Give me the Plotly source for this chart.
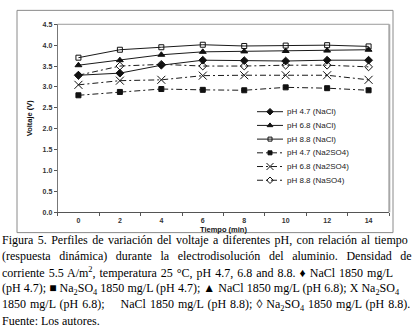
import plotly.graph_objects as go

W, H = 415, 335

# ---- data ----
tiempo = [0, 2, 4, 6, 8, 10, 12, 14]
ph47_nacl = [3.28, 3.33, 3.52, 3.64, 3.63, 3.62, 3.64, 3.64]
ph68_nacl = [3.52, 3.64, 3.77, 3.84, 3.85, 3.86, 3.87, 3.89]
ph88_nacl = [3.70, 3.89, 3.95, 4.01, 3.98, 3.99, 4.00, 3.97]
ph47_na2so4 = [2.80, 2.88, 2.95, 2.93, 2.92, 2.99, 2.97, 2.92]
ph68_na2so4 = [3.05, 3.15, 3.17, 3.27, 3.28, 3.28, 3.28, 3.17]
ph88_naso4 = [3.28, 3.50, 3.54, 3.50, 3.50, 3.52, 3.52, 3.48]

labels = ["pH 4.7 (NaCl)", "pH 6.8 (NaCl)", "pH 8.8 (NaCl)",
          "pH 4.7 (Na2SO4)", "pH 6.8 (Na2SO4)", "pH 8.8 (NaSO4)"]
values = [ph47_nacl, ph68_nacl, ph88_nacl, ph47_na2so4, ph68_na2so4, ph88_naso4]
y_ticks = [0.0, 0.5, 1.0, 1.5, 2.0, 2.5, 3.0, 3.5, 4.0, 4.5]
x_title = "Tiempo (min)"
y_title = "Voltaje (V)"

caption = [
    "Figura 5. Perfiles de variación del voltaje a diferentes pH, con relación al tiempo",
    "(respuesta dinámica) durante la electrodisolución del aluminio. Densidad de",
    "corriente 5.5 A/m<sup>2</sup>, temperatura 25 °C, pH 4.7, 6.8 and 8.8. ♦ NaCl 1850 mg/L",
    "(pH 4.7); ■ Na<sub>2</sub>SO<sub>4</sub> 1850 mg/L (pH 4.7); ▲ NaCl 1850 mg/L (pH 6.8); X Na<sub>2</sub>SO<sub>4</sub>",
    "1850 mg/L (pH 6.8);\u00a0\u00a0\u00a0 NaCl 1850 mg/L (pH 8.8); ◊ Na<sub>2</sub>SO<sub>4</sub> 1850 mg/L (pH 8.8).",
    "Fuente: Los autores.",
]
# extra word spacing (px) per line, for justification
word_sp = [1.4, 5.6, 1.0, 0.1, 1.0, 0]

# ---- styles ----
styles = [
    dict(symbol="diamond", size=6, dash="solid"),
    dict(symbol="triangle-up", size=6, dash="solid"),
    dict(symbol="square-open", size=5, dash="solid"),
    dict(symbol="square", size=5, dash="6px,3px,2px,3px"),
    dict(symbol="x-thin-open", size=8, dash="6px,3px,2px,3px"),
    dict(symbol="diamond-open", size=6, dash="6px,3px,2px,3px"),
]

def px(x):
    return x / W

def py(y):
    return 1 - y / H

L, R, T, B = 57.7, 389.3, 20.7, 212.7
FONT = "Liberation Sans, Arial"

fig = go.Figure()
for lab, vals, st in zip(labels, values, styles):
    fig.add_trace(go.Scatter(
        x=tiempo, y=vals, mode="lines+markers", name=lab,
        line=dict(color="#1a1a1a", width=1, dash=st["dash"]),
        marker=dict(symbol=st["symbol"], size=st["size"], color="#111",
                    line=dict(color="#111", width=1)),
        showlegend=False, xaxis="x", yaxis="y"))

# custom legend (pixel coordinate overlay axes)
leg_x0, leg_x1, leg_txt = 257, 283, 285
leg_rows = [110, 124, 138, 152, 166, 180]
for lab, st, ry in zip(labels, styles, leg_rows):
    fig.add_trace(go.Scatter(
        x=[leg_x0, leg_x1], y=[ry, ry], mode="lines",
        line=dict(color="#1a1a1a", width=1, dash=st["dash"]),
        showlegend=False, hoverinfo="skip", xaxis="x2", yaxis="y2"))
    fig.add_trace(go.Scatter(
        x=[(leg_x0 + leg_x1) / 2], y=[ry], mode="markers",
        marker=dict(symbol=st["symbol"], size=st["size"] - 1, color="#111",
                    line=dict(color="#111", width=1)),
        showlegend=False, hoverinfo="skip", xaxis="x2", yaxis="y2"))
    fig.add_annotation(x=leg_txt, y=ry, xref="x2", yref="y2", text=lab,
                       showarrow=False, xanchor="left", yanchor="middle",
                       font=dict(family=FONT, size=8, color="#222"))

fig.update_layout(
    width=W, height=H, margin=dict(l=0, r=0, t=0, b=0),
    paper_bgcolor="white", plot_bgcolor="rgba(0,0,0,0)", showlegend=False,
    xaxis=dict(domain=[px(L), px(R)], range=[-1, 15], tickmode="array",
               tickvals=tiempo, ticktext=["<b>%d</b>" % t for t in tiempo],
               ticks="outside", ticklen=1, tickcolor="rgba(0,0,0,0)",
               showgrid=False, zeroline=False, showline=True, linecolor="#555",
               linewidth=1, anchor="y",
               tickfont=dict(family=FONT, size=7, color="#333"),
               minor=dict(tickmode="linear", tick0=-1, dtick=2, ticks="outside",
                          ticklen=3, tickcolor="#555", showgrid=False)),
    yaxis=dict(domain=[py(B), py(T)], range=[0, 4.5], tickmode="array",
               tickvals=y_ticks, ticktext=["<b>%.1f</b>" % v for v in y_ticks],
               ticks="outside", ticklen=3, tickcolor="#555",
               showgrid=False, zeroline=False, showline=True, linecolor="#777",
               linewidth=1, anchor="x",
               tickfont=dict(family=FONT, size=7, color="#333")),
    xaxis2=dict(domain=[0, 1], range=[0, W], visible=False, anchor="y2", fixedrange=True),
    yaxis2=dict(domain=[0, 1], range=[H, 0], visible=False, anchor="x2", fixedrange=True),
)

# axis titles
fig.add_annotation(x=px((L + R) / 2), y=py(230), xref="paper", yref="paper",
                   text="<b>%s</b>" % x_title, showarrow=False,
                   xanchor="center", yanchor="middle",
                   font=dict(family=FONT, size=7.5, color="#111"))
fig.add_annotation(x=px(29), y=py((T + B) / 2), xref="paper", yref="paper",
                   text="<b>%s</b>" % y_title, showarrow=False, textangle=-90,
                   xanchor="center", yanchor="middle",
                   font=dict(family=FONT, size=7.5, color="#111"))

# outer frame, plot-area top/right borders
fig.add_shape(type="rect", xref="paper", yref="paper",
              x0=px(17), x1=px(393), y0=py(233.5), y1=py(6.5),
              line=dict(color="#8a8a8a", width=1), layer="below")
fig.add_shape(type="line", xref="paper", yref="paper",
              x0=px(L), x1=px(R), y0=py(T), y1=py(T),
              line=dict(color="#9a9a9a", width=1))
fig.add_shape(type="line", xref="paper", yref="paper",
              x0=px(R), x1=px(R), y0=py(T), y1=py(B),
              line=dict(color="#a8a8a8", width=2))

cap_y = [240.8, 257.4, 274.0, 290.6, 307.2, 323.8]
for line, ws, yy in zip(caption, word_sp, cap_y):
    txt = '<span style="word-spacing:%.2fpx">%s</span>' % (ws, line) if ws else line
    fig.add_annotation(x=px(0), y=py(yy), xref="paper", yref="paper",
                       text=txt, showarrow=False, xanchor="left", yanchor="middle",
                       font=dict(family="Liberation Serif, Times New Roman", size=12,
                                 color="#000"))

fig.write_html("out.html", config={"displayModeBar": False},
               post_script="document.body.style.margin='0';document.body.style.padding='0';")
